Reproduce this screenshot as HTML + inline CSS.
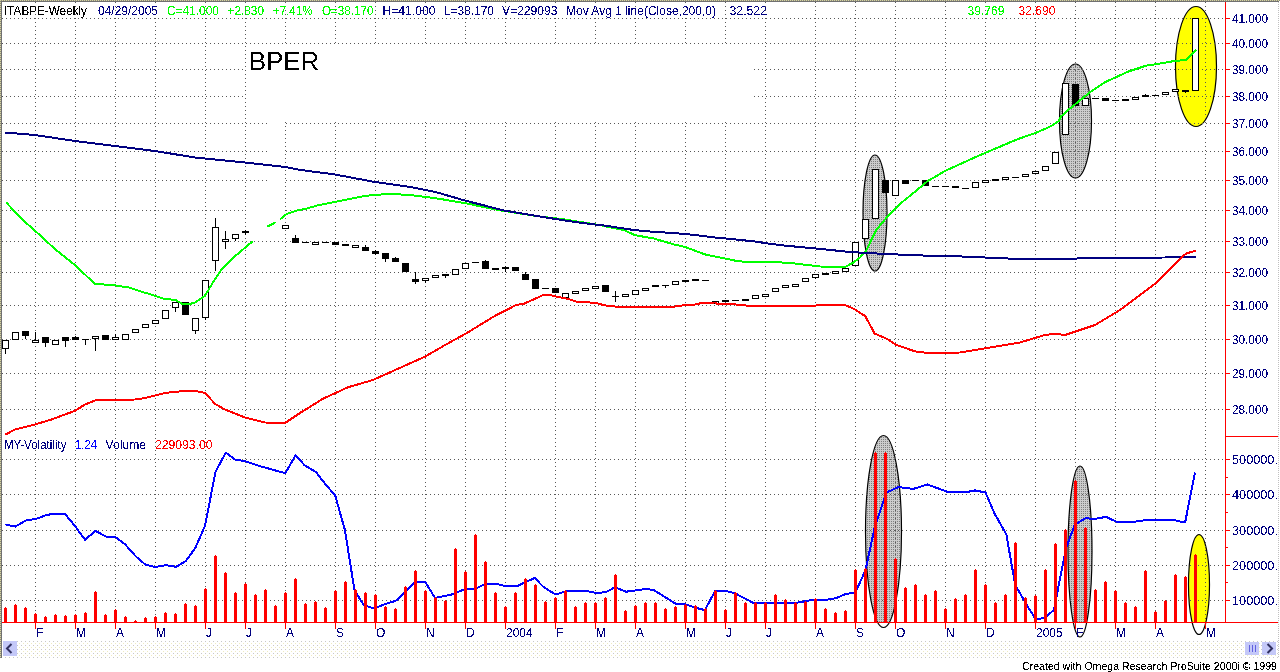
<!DOCTYPE html><html><head><meta charset="utf-8"><style>html,body{margin:0;padding:0;background:#fff;overflow:hidden}svg{display:block}text{font-family:"Liberation Sans",sans-serif}</style></head><body>
<svg width="1280" height="672" viewBox="0 0 1280 672">
<defs><pattern id="gp" x="0" y="0" width="2" height="2" patternUnits="userSpaceOnUse"><rect width="2" height="2" fill="#cccccc"/><rect x="1" y="1" width="1" height="1" fill="#808080"/></pattern>
<clipPath id="volclip"><rect x="0" y="436" width="1280" height="186"/></clipPath>
<pattern id="sb" x="0" y="0" width="4" height="4" patternUnits="userSpaceOnUse"><rect width="4" height="4" fill="#ffffff"/><rect x="1" y="1" width="1" height="1" fill="#c8c8c8"/><rect x="3" y="3" width="1" height="1" fill="#f0ecc0"/></pattern>
<pattern id="bd" x="0" y="0" width="2" height="2" patternUnits="userSpaceOnUse"><rect width="2" height="2" fill="#d8d49c"/><rect x="1" y="0" width="1" height="1" fill="#8a8a80"/><rect x="0" y="1" width="1" height="1" fill="#8a8a80"/></pattern>
<filter id="thr" x="0" y="0" width="1280" height="672" filterUnits="userSpaceOnUse"><feComponentTransfer><feFuncA type="discrete" tableValues="0 0 0 0 1 1 1 1 1"/></feComponentTransfer></filter>
<filter id="thr2" x="0" y="0" width="1280" height="672" filterUnits="userSpaceOnUse"><feComponentTransfer><feFuncA type="discrete" tableValues="0 0 0 1 1 1"/></feComponentTransfer></filter>
</defs>
<rect width="1280" height="672" fill="#fff"/>
<ellipse cx="875" cy="213" rx="12" ry="58" fill="url(#gp)"/>
<ellipse cx="875" cy="213" rx="12" ry="58" fill="none" stroke="#000" stroke-width="1.2"/>
<ellipse cx="1075.5" cy="121" rx="16" ry="57" fill="url(#gp)"/>
<ellipse cx="1075.5" cy="121" rx="16" ry="57" fill="none" stroke="#000" stroke-width="1.2"/>
<ellipse cx="1196" cy="66.5" rx="20.5" ry="60" fill="#ffff00"/>
<ellipse cx="1196" cy="66.5" rx="20.5" ry="60" fill="none" stroke="#000" stroke-width="1.2"/>
<ellipse cx="883.5" cy="531.5" rx="18" ry="96" fill="url(#gp)" clip-path="url(#volclip)"/>
<ellipse cx="883.5" cy="531.5" rx="18" ry="96" fill="none" stroke="#000" stroke-width="1.2"/>
<ellipse cx="1080" cy="551.5" rx="12" ry="85.5" fill="url(#gp)" clip-path="url(#volclip)"/>
<ellipse cx="1080" cy="551.5" rx="12" ry="85.5" fill="none" stroke="#000" stroke-width="1.2"/>
<ellipse cx="1199" cy="584.5" rx="10.5" ry="50" fill="#ffff00" clip-path="url(#volclip)"/>
<ellipse cx="1199" cy="584.5" rx="10.5" ry="50" fill="none" stroke="#000" stroke-width="1.2"/>
<g stroke="#585858" stroke-width="1" stroke-dasharray="1 3" shape-rendering="crispEdges" fill="none">
<line x1="35.5" y1="2" x2="35.5" y2="622"/>
<line x1="75.5" y1="2" x2="75.5" y2="622"/>
<line x1="115.5" y1="2" x2="115.5" y2="622"/>
<line x1="155.5" y1="2" x2="155.5" y2="622"/>
<line x1="205.5" y1="2" x2="205.5" y2="622"/>
<line x1="245.5" y1="2" x2="245.5" y2="622"/>
<line x1="285.5" y1="2" x2="285.5" y2="622"/>
<line x1="335.5" y1="2" x2="335.5" y2="622"/>
<line x1="375.5" y1="2" x2="375.5" y2="622"/>
<line x1="425.5" y1="2" x2="425.5" y2="622"/>
<line x1="465.5" y1="2" x2="465.5" y2="622"/>
<line x1="505.5" y1="2" x2="505.5" y2="622"/>
<line x1="555.5" y1="2" x2="555.5" y2="622"/>
<line x1="595.5" y1="2" x2="595.5" y2="622"/>
<line x1="635.5" y1="2" x2="635.5" y2="622"/>
<line x1="685.5" y1="2" x2="685.5" y2="622"/>
<line x1="725.5" y1="2" x2="725.5" y2="622"/>
<line x1="765.5" y1="2" x2="765.5" y2="622"/>
<line x1="815.5" y1="2" x2="815.5" y2="622"/>
<line x1="855.5" y1="2" x2="855.5" y2="622"/>
<line x1="895.5" y1="2" x2="895.5" y2="622"/>
<line x1="945.5" y1="2" x2="945.5" y2="622"/>
<line x1="985.5" y1="2" x2="985.5" y2="622"/>
<line x1="1035.5" y1="2" x2="1035.5" y2="622"/>
<line x1="1075.5" y1="2" x2="1075.5" y2="622"/>
<line x1="1115.5" y1="2" x2="1115.5" y2="622"/>
<line x1="1155.5" y1="2" x2="1155.5" y2="622"/>
<line x1="1205.5" y1="2" x2="1205.5" y2="622"/>
<line x1="2" y1="18.5" x2="1225" y2="18.5"/>
<line x1="2" y1="43.5" x2="1225" y2="43.5"/>
<line x1="2" y1="69.5" x2="1225" y2="69.5"/>
<line x1="2" y1="96.5" x2="1225" y2="96.5"/>
<line x1="2" y1="123.5" x2="1225" y2="123.5"/>
<line x1="2" y1="151.5" x2="1225" y2="151.5"/>
<line x1="2" y1="180.5" x2="1225" y2="180.5"/>
<line x1="2" y1="210.5" x2="1225" y2="210.5"/>
<line x1="2" y1="241.5" x2="1225" y2="241.5"/>
<line x1="2" y1="272.5" x2="1225" y2="272.5"/>
<line x1="2" y1="305.5" x2="1225" y2="305.5"/>
<line x1="2" y1="339.5" x2="1225" y2="339.5"/>
<line x1="2" y1="373.5" x2="1225" y2="373.5"/>
<line x1="2" y1="409.5" x2="1225" y2="409.5"/>
<line x1="2" y1="459.5" x2="1225" y2="459.5"/>
<line x1="2" y1="494.5" x2="1225" y2="494.5"/>
<line x1="2" y1="530.5" x2="1225" y2="530.5"/>
<line x1="2" y1="565.5" x2="1225" y2="565.5"/>
<line x1="2" y1="600.5" x2="1225" y2="600.5"/>
</g>
<rect x="246" y="44" width="507" height="78" fill="#fff"/>
<rect x="267" y="123" width="16" height="93" fill="#fff"/>
<rect x="246" y="205" width="22" height="11" fill="#fff"/>
<text filter="url(#thr2)" x="249" y="70" font-size="26.5" fill="#000" textLength="70" lengthAdjust="spacingAndGlyphs">BPER</text>
<g shape-rendering="crispEdges">
<rect x="5" y="348" width="1" height="6" fill="#000"/>
<rect x="2" y="340" width="7" height="9" fill="#000"/>
<rect x="3" y="341" width="5" height="7" fill="#fff"/>
<rect x="12" y="332" width="7" height="8" fill="#000"/>
<rect x="13" y="333" width="5" height="6" fill="#fff"/>
<rect x="25" y="335" width="1" height="4" fill="#000"/>
<rect x="22" y="331" width="7" height="5" fill="#000"/>
<rect x="35" y="332" width="1" height="9" fill="#000"/>
<rect x="32" y="340" width="7" height="3" fill="#000"/>
<rect x="33" y="341" width="5" height="1" fill="#fff"/>
<rect x="45" y="342" width="1" height="5" fill="#000"/>
<rect x="42" y="337" width="7" height="6" fill="#000"/>
<rect x="52" y="340" width="7" height="5" fill="#000"/>
<rect x="53" y="341" width="5" height="3" fill="#fff"/>
<rect x="65" y="340" width="1" height="7" fill="#000"/>
<rect x="62" y="337" width="7" height="4" fill="#000"/>
<rect x="75" y="336" width="1" height="2" fill="#000"/>
<rect x="72" y="337" width="7" height="3" fill="#000"/>
<rect x="85" y="340" width="1" height="5" fill="#000"/>
<rect x="82" y="339" width="7" height="1" fill="#000"/>
<rect x="95" y="338" width="1" height="13" fill="#000"/>
<rect x="92" y="336" width="7" height="3" fill="#000"/>
<rect x="93" y="337" width="5" height="1" fill="#fff"/>
<rect x="102" y="335" width="7" height="5" fill="#000"/>
<rect x="115" y="334" width="1" height="4" fill="#000"/>
<rect x="112" y="337" width="7" height="3" fill="#000"/>
<rect x="113" y="338" width="5" height="1" fill="#fff"/>
<rect x="122" y="334" width="7" height="6" fill="#000"/>
<rect x="123" y="335" width="5" height="4" fill="#fff"/>
<rect x="132" y="329" width="7" height="4" fill="#000"/>
<rect x="133" y="330" width="5" height="2" fill="#fff"/>
<rect x="142" y="324" width="7" height="4" fill="#000"/>
<rect x="143" y="325" width="5" height="2" fill="#fff"/>
<rect x="152" y="320" width="7" height="4" fill="#000"/>
<rect x="153" y="321" width="5" height="2" fill="#fff"/>
<rect x="162" y="310" width="7" height="9" fill="#000"/>
<rect x="163" y="311" width="5" height="7" fill="#fff"/>
<rect x="175" y="307" width="1" height="5" fill="#000"/>
<rect x="172" y="302" width="7" height="6" fill="#000"/>
<rect x="173" y="303" width="5" height="4" fill="#fff"/>
<rect x="182" y="302" width="7" height="13" fill="#000"/>
<rect x="195" y="330" width="1" height="4" fill="#000"/>
<rect x="192" y="318" width="7" height="13" fill="#000"/>
<rect x="193" y="319" width="5" height="11" fill="#fff"/>
<rect x="205" y="317" width="1" height="3" fill="#000"/>
<rect x="202" y="280" width="7" height="38" fill="#000"/>
<rect x="203" y="281" width="5" height="36" fill="#fff"/>
<rect x="215" y="218" width="1" height="10" fill="#000"/>
<rect x="215" y="260" width="1" height="11" fill="#000"/>
<rect x="212" y="227" width="7" height="34" fill="#000"/>
<rect x="213" y="228" width="5" height="32" fill="#fff"/>
<rect x="225" y="231" width="1" height="9" fill="#000"/>
<rect x="225" y="241" width="1" height="8" fill="#000"/>
<rect x="222" y="239" width="7" height="3" fill="#000"/>
<rect x="223" y="240" width="5" height="1" fill="#fff"/>
<rect x="235" y="238" width="1" height="3" fill="#000"/>
<rect x="232" y="234" width="7" height="5" fill="#000"/>
<rect x="233" y="235" width="5" height="3" fill="#fff"/>
<rect x="245" y="230" width="1" height="2" fill="#000"/>
<rect x="245" y="232" width="1" height="3" fill="#000"/>
<rect x="242" y="231" width="7" height="2" fill="#000"/>
<rect x="282" y="225" width="7" height="4" fill="#000"/>
<rect x="283" y="226" width="5" height="2" fill="#fff"/>
<rect x="295" y="235" width="1" height="4" fill="#000"/>
<rect x="292" y="238" width="7" height="5" fill="#000"/>
<rect x="302" y="242" width="7" height="1" fill="#000"/>
<rect x="312" y="242" width="7" height="3" fill="#000"/>
<rect x="313" y="243" width="5" height="1" fill="#fff"/>
<rect x="325" y="242" width="1" height="1" fill="#000"/>
<rect x="322" y="242" width="7" height="1" fill="#000"/>
<rect x="332" y="242" width="7" height="3" fill="#000"/>
<rect x="342" y="244" width="7" height="2" fill="#000"/>
<rect x="352" y="245" width="7" height="3" fill="#000"/>
<rect x="353" y="246" width="5" height="1" fill="#fff"/>
<rect x="365" y="245" width="1" height="3" fill="#000"/>
<rect x="362" y="247" width="7" height="4" fill="#000"/>
<rect x="375" y="250" width="1" height="2" fill="#000"/>
<rect x="375" y="253" width="1" height="2" fill="#000"/>
<rect x="372" y="251" width="7" height="3" fill="#000"/>
<rect x="385" y="258" width="1" height="4" fill="#000"/>
<rect x="382" y="253" width="7" height="6" fill="#000"/>
<rect x="395" y="257" width="1" height="2" fill="#000"/>
<rect x="392" y="258" width="7" height="4" fill="#000"/>
<rect x="402" y="263" width="7" height="9" fill="#000"/>
<rect x="415" y="272" width="1" height="8" fill="#000"/>
<rect x="415" y="281" width="1" height="3" fill="#000"/>
<rect x="412" y="279" width="7" height="3" fill="#000"/>
<rect x="425" y="280" width="1" height="3" fill="#000"/>
<rect x="422" y="278" width="7" height="3" fill="#000"/>
<rect x="423" y="279" width="5" height="1" fill="#fff"/>
<rect x="432" y="275" width="7" height="3" fill="#000"/>
<rect x="433" y="276" width="5" height="1" fill="#fff"/>
<rect x="445" y="275" width="1" height="3" fill="#000"/>
<rect x="442" y="274" width="7" height="2" fill="#000"/>
<rect x="452" y="269" width="7" height="6" fill="#000"/>
<rect x="453" y="270" width="5" height="4" fill="#fff"/>
<rect x="462" y="263" width="7" height="6" fill="#000"/>
<rect x="463" y="264" width="5" height="4" fill="#fff"/>
<rect x="472" y="262" width="7" height="1" fill="#000"/>
<rect x="485" y="260" width="1" height="2" fill="#000"/>
<rect x="482" y="261" width="7" height="8" fill="#000"/>
<rect x="492" y="268" width="7" height="2" fill="#000"/>
<rect x="505" y="266" width="1" height="2" fill="#000"/>
<rect x="505" y="268" width="1" height="4" fill="#000"/>
<rect x="502" y="267" width="7" height="2" fill="#000"/>
<rect x="512" y="267" width="7" height="4" fill="#000"/>
<rect x="525" y="272" width="1" height="3" fill="#000"/>
<rect x="522" y="274" width="7" height="6" fill="#000"/>
<rect x="532" y="279" width="7" height="10" fill="#000"/>
<rect x="542" y="288" width="7" height="1" fill="#000"/>
<rect x="552" y="288" width="7" height="5" fill="#000"/>
<rect x="562" y="293" width="7" height="5" fill="#000"/>
<rect x="563" y="294" width="5" height="3" fill="#fff"/>
<rect x="572" y="291" width="7" height="3" fill="#000"/>
<rect x="573" y="292" width="5" height="1" fill="#fff"/>
<rect x="582" y="288" width="7" height="3" fill="#000"/>
<rect x="583" y="289" width="5" height="1" fill="#fff"/>
<rect x="592" y="286" width="7" height="3" fill="#000"/>
<rect x="593" y="287" width="5" height="1" fill="#fff"/>
<rect x="602" y="285" width="7" height="7" fill="#000"/>
<rect x="615" y="291" width="1" height="6" fill="#000"/>
<rect x="615" y="297" width="1" height="5" fill="#000"/>
<rect x="612" y="296" width="7" height="1" fill="#000"/>
<rect x="622" y="294" width="7" height="3" fill="#000"/>
<rect x="623" y="295" width="5" height="1" fill="#fff"/>
<rect x="632" y="290" width="7" height="5" fill="#000"/>
<rect x="633" y="291" width="5" height="3" fill="#fff"/>
<rect x="642" y="288" width="7" height="3" fill="#000"/>
<rect x="643" y="289" width="5" height="1" fill="#fff"/>
<rect x="652" y="285" width="7" height="2" fill="#000"/>
<rect x="665" y="286" width="1" height="2" fill="#000"/>
<rect x="662" y="285" width="7" height="1" fill="#000"/>
<rect x="672" y="281" width="7" height="4" fill="#000"/>
<rect x="673" y="282" width="5" height="2" fill="#fff"/>
<rect x="682" y="280" width="7" height="2" fill="#000"/>
<rect x="692" y="279" width="7" height="2" fill="#000"/>
<rect x="702" y="280" width="7" height="1" fill="#000"/>
<rect x="712" y="301" width="7" height="3" fill="#000"/>
<rect x="713" y="302" width="5" height="1" fill="#fff"/>
<rect x="722" y="300" width="7" height="2" fill="#000"/>
<rect x="732" y="300" width="7" height="1" fill="#000"/>
<rect x="742" y="299" width="7" height="2" fill="#000"/>
<rect x="752" y="295" width="7" height="4" fill="#000"/>
<rect x="753" y="296" width="5" height="2" fill="#fff"/>
<rect x="762" y="294" width="7" height="3" fill="#000"/>
<rect x="763" y="295" width="5" height="1" fill="#fff"/>
<rect x="772" y="288" width="7" height="4" fill="#000"/>
<rect x="773" y="289" width="5" height="2" fill="#fff"/>
<rect x="782" y="285" width="7" height="3" fill="#000"/>
<rect x="783" y="286" width="5" height="1" fill="#fff"/>
<rect x="792" y="284" width="7" height="3" fill="#000"/>
<rect x="793" y="285" width="5" height="1" fill="#fff"/>
<rect x="802" y="278" width="7" height="4" fill="#000"/>
<rect x="803" y="279" width="5" height="2" fill="#fff"/>
<rect x="815" y="277" width="1" height="2" fill="#000"/>
<rect x="812" y="274" width="7" height="4" fill="#000"/>
<rect x="813" y="275" width="5" height="2" fill="#fff"/>
<rect x="822" y="273" width="7" height="2" fill="#000"/>
<rect x="832" y="271" width="7" height="3" fill="#000"/>
<rect x="833" y="272" width="5" height="1" fill="#fff"/>
<rect x="842" y="268" width="7" height="4" fill="#000"/>
<rect x="843" y="269" width="5" height="2" fill="#fff"/>
<rect x="852" y="242" width="7" height="24" fill="#000"/>
<rect x="853" y="243" width="5" height="22" fill="#fff"/>
<rect x="862" y="219" width="7" height="20" fill="#000"/>
<rect x="863" y="220" width="5" height="18" fill="#fff"/>
<rect x="872" y="169" width="7" height="50" fill="#000"/>
<rect x="873" y="170" width="5" height="48" fill="#fff"/>
<rect x="882" y="180" width="7" height="13" fill="#000"/>
<rect x="892" y="180" width="7" height="16" fill="#000"/>
<rect x="893" y="181" width="5" height="14" fill="#fff"/>
<rect x="902" y="180" width="7" height="4" fill="#000"/>
<rect x="912" y="180" width="7" height="1" fill="#000"/>
<rect x="922" y="180" width="7" height="6" fill="#000"/>
<rect x="932" y="186" width="7" height="1" fill="#000"/>
<rect x="942" y="186" width="7" height="1" fill="#000"/>
<rect x="952" y="186" width="7" height="2" fill="#000"/>
<rect x="962" y="188" width="7" height="1" fill="#000"/>
<rect x="972" y="182" width="7" height="6" fill="#000"/>
<rect x="973" y="183" width="5" height="4" fill="#fff"/>
<rect x="982" y="180" width="7" height="3" fill="#000"/>
<rect x="983" y="181" width="5" height="1" fill="#fff"/>
<rect x="992" y="179" width="7" height="2" fill="#000"/>
<rect x="1002" y="177" width="7" height="3" fill="#000"/>
<rect x="1003" y="178" width="5" height="1" fill="#fff"/>
<rect x="1012" y="177" width="7" height="1" fill="#000"/>
<rect x="1022" y="174" width="7" height="3" fill="#000"/>
<rect x="1023" y="175" width="5" height="1" fill="#fff"/>
<rect x="1032" y="171" width="7" height="3" fill="#000"/>
<rect x="1033" y="172" width="5" height="1" fill="#fff"/>
<rect x="1042" y="166" width="7" height="5" fill="#000"/>
<rect x="1043" y="167" width="5" height="3" fill="#fff"/>
<rect x="1052" y="152" width="7" height="12" fill="#000"/>
<rect x="1053" y="153" width="5" height="10" fill="#fff"/>
<rect x="1062" y="83" width="7" height="52" fill="#000"/>
<rect x="1063" y="84" width="5" height="50" fill="#fff"/>
<rect x="1072" y="84" width="7" height="22" fill="#000"/>
<rect x="1082" y="98" width="7" height="8" fill="#000"/>
<rect x="1083" y="99" width="5" height="6" fill="#fff"/>
<rect x="1092" y="98" width="7" height="1" fill="#000"/>
<rect x="1102" y="98" width="7" height="3" fill="#000"/>
<rect x="1112" y="100" width="7" height="1" fill="#000"/>
<rect x="1122" y="99" width="7" height="2" fill="#000"/>
<rect x="1132" y="97" width="7" height="3" fill="#000"/>
<rect x="1133" y="98" width="5" height="1" fill="#fff"/>
<rect x="1145" y="94" width="1" height="2" fill="#000"/>
<rect x="1142" y="95" width="7" height="2" fill="#000"/>
<rect x="1152" y="95" width="7" height="1" fill="#000"/>
<rect x="1162" y="92" width="7" height="3" fill="#000"/>
<rect x="1163" y="93" width="5" height="1" fill="#fff"/>
<rect x="1172" y="89" width="7" height="3" fill="#000"/>
<rect x="1173" y="90" width="5" height="1" fill="#fff"/>
<rect x="1185" y="90" width="1" height="3" fill="#000"/>
<rect x="1182" y="90" width="7" height="2" fill="#000"/>
<rect x="1192" y="18" width="7" height="73" fill="#000"/>
<rect x="1193" y="19" width="5" height="71" fill="#fff"/>
</g>
<g fill="none" stroke-width="2" stroke-linejoin="round" stroke-linecap="butt" shape-rendering="crispEdges">
<polyline points="6.0,202.2 20.6,218.0 37.5,233.0 56.0,250.0 75.0,265.0 94.7,283.8 114.4,285.3 130.0,287.7 140.0,291.3 150.5,294.3 165.7,299.4 174.8,299.6 183.0,304.3 190.0,304.0 195.0,302.5 198.9,300.0 204.7,296.0 209.5,288.2 215.3,278.6 222.1,268.9 233.7,257.3 252.6,241.3" stroke="#00ff00"/>
<polyline points="267.5,226.6 275.6,222.3" stroke="#00ff00"/>
<polyline points="280.2,219.3 286.3,214.2 296.4,210.7 306.6,208.6 316.8,205.6 331.9,202.6 366.4,195.7 390.3,193.8 411.6,195.2 438.1,198.6 464.7,203.1 501.9,210.6 539.0,216.4 565.6,219.6 600.1,225.2 623.8,230.0 635.0,235.2 653.8,238.5 673.8,244.4 685.0,246.9 705.0,254.4 725.0,258.5 735.0,260.6 745.0,261.9 773.8,261.9 795.0,263.5 820.0,266.5 845.0,266.9 852.5,263.1 860.0,257.5 866.2,250.6 876.2,230.0 886.2,218.1 900.0,203.8 912.5,193.8 927.5,181.2 945.0,171.0 965.0,161.9 980.0,155.1 998.7,147.2 1017.5,139.2 1036.2,132.7 1051.2,126.1 1058.7,121.0 1061.2,116.2 1071.2,107.5 1090.0,92.2 1105.0,82.2 1127.5,71.9 1146.2,65.6 1155.0,64.4 1174.5,61.0 1186.0,60.0 1196.0,49.9" stroke="#00ff00"/>
<polyline points="5.0,132.5 35.0,135.0 75.0,141.0 115.0,146.0 155.0,151.0 195.0,157.5 245.0,162.5 285.0,167.0 300.0,169.9 334.5,174.4 374.4,181.9 411.6,187.2 435.5,192.0 464.7,200.5 504.5,210.6 539.0,216.4 576.2,222.2 605.4,225.7 635.0,230.2 655.0,231.9 675.0,233.1 695.0,235.0 715.0,237.5 735.0,239.4 755.0,241.5 770.0,243.8 785.0,245.6 805.0,247.5 825.0,249.4 845.0,251.5 865.0,252.9 895.0,254.4 925.0,255.6 955.0,256.2 985.0,257.5 1015.0,258.8 1075.0,258.8 1080.0,258.0 1165.0,257.5 1196.0,256.8" stroke="#000080"/>
<polyline points="5.5,434.5 15.0,429.5 35.0,424.5 50.0,420.0 75.0,410.8 85.0,404.5 95.0,400.5 135.0,399.5 145.0,398.0 155.0,395.5 165.0,393.0 185.0,390.8 195.0,390.8 205.0,393.0 215.0,403.8 225.0,409.5 245.0,417.5 265.0,422.5 285.0,423.0 300.0,413.0 322.9,398.8 347.9,387.3 372.9,380.0 393.8,370.6 425.0,356.7 445.8,344.6 466.7,333.1 493.8,316.5 516.2,305.0 523.8,303.8 543.8,294.8 550.0,295.0 556.2,296.5 567.5,298.8 576.2,301.6 595.0,302.8 605.0,305.4 615.0,306.5 675.0,306.5 686.2,305.0 697.5,304.4 701.2,302.8 715.0,302.5 717.5,304.0 735.0,304.0 737.0,305.0 745.0,305.0 747.0,306.0 815.0,306.0 817.5,305.0 845.0,305.0 854.0,308.8 865.3,316.2 874.7,333.6 886.9,338.8 896.2,344.8 915.0,351.4 927.5,353.0 960.0,352.5 990.0,347.5 1020.0,342.5 1045.0,335.0 1055.0,333.8 1065.0,335.0 1095.0,325.0 1120.0,310.0 1155.0,283.8 1182.5,256.2 1187.5,253.0 1196.0,250.8" stroke="#ff0000"/>
</g>
<polyline points="5.5,524.4 15.2,526.6 26.3,520.3 36.0,518.9 45.7,515.3 52.6,513.9 65.0,513.9 74.8,525.8 85.0,539.7 95.5,530.9 106.6,536.9 115.0,536.9 124.7,543.9 135.7,556.3 145.4,564.6 155.0,566.9 166.2,565.2 175.9,566.9 185.6,561.3 195.3,548.0 205.0,525.8 215.5,471.9 225.8,452.5 235.5,459.9 243.8,460.8 260.4,466.3 285.4,473.2 295.6,455.2 304.8,465.5 315.8,471.9 325.5,484.3 335.2,495.4 344.9,530.0 354.6,590.9 364.3,605.5 374.0,608.3 383.7,604.7 396.1,600.6 415.5,581.8 425.2,581.8 435.0,597.9 451.6,594.5 465.5,589.0 475.2,589.0 486.3,583.5 494.6,583.5 505.7,586.2 516.8,586.2 534.8,577.9 543.1,586.7 555.6,594.5 566.6,591.0 586.0,591.0 595.7,592.9 605.4,592.3 615.0,587.3 626.1,591.7 645.5,589.0 653.8,590.0 676.0,604.0 684.3,604.0 699.6,608.9 704.9,610.0 715.3,590.7 724.2,590.7 734.6,593.1 754.0,603.2 794.2,603.2 809.0,600.5 824.0,600.2 835.8,598.2 846.3,593.7 855.2,593.1 865.6,569.9 874.5,528.2 886.4,492.5 898.3,487.1 913.2,488.9 927.4,484.5 946.8,491.6 964.6,492.5 975.0,490.4 985.5,492.5 994.4,513.3 1006.3,534.2 1015.2,584.8 1027.1,605.6 1036.0,619.6 1045.0,617.5 1053.9,610.0 1065.8,549.0 1074.8,524.6 1085.2,518.4 1095.6,518.7 1106.0,516.9 1116.4,521.7 1134.3,521.7 1147.0,520.0 1173.8,520.0 1185.1,522.6 1195.0,472.5" fill="none" stroke="#0000ff" stroke-width="2" stroke-linejoin="round" shape-rendering="crispEdges"/>
<g fill="#ff0000" shape-rendering="crispEdges">
<rect x="5" y="607" width="1" height="1"/><rect x="4" y="608" width="3" height="14"/>
<rect x="15" y="604" width="1" height="1"/><rect x="14" y="605" width="3" height="17"/>
<rect x="25" y="607" width="1" height="1"/><rect x="24" y="608" width="3" height="14"/>
<rect x="35" y="613" width="1" height="1"/><rect x="34" y="614" width="3" height="8"/>
<rect x="45" y="616" width="1" height="1"/><rect x="44" y="617" width="3" height="5"/>
<rect x="55" y="614" width="1" height="1"/><rect x="54" y="615" width="3" height="7"/>
<rect x="65" y="615" width="1" height="1"/><rect x="64" y="616" width="3" height="6"/>
<rect x="75" y="614" width="1" height="1"/><rect x="74" y="615" width="3" height="7"/>
<rect x="85" y="612" width="1" height="1"/><rect x="84" y="613" width="3" height="9"/>
<rect x="95" y="591" width="1" height="1"/><rect x="94" y="592" width="3" height="30"/>
<rect x="105" y="614" width="1" height="1"/><rect x="104" y="615" width="3" height="7"/>
<rect x="115" y="609" width="1" height="1"/><rect x="114" y="610" width="3" height="12"/>
<rect x="125" y="616" width="1" height="1"/><rect x="124" y="617" width="3" height="5"/>
<rect x="135" y="620" width="1" height="1"/><rect x="134" y="621" width="3" height="1"/>
<rect x="145" y="617" width="1" height="1"/><rect x="144" y="618" width="3" height="4"/>
<rect x="155" y="616" width="1" height="1"/><rect x="154" y="617" width="3" height="5"/>
<rect x="165" y="612" width="1" height="1"/><rect x="164" y="613" width="3" height="9"/>
<rect x="175" y="613" width="1" height="1"/><rect x="174" y="614" width="3" height="8"/>
<rect x="185" y="603" width="1" height="1"/><rect x="184" y="604" width="3" height="18"/>
<rect x="195" y="605" width="1" height="1"/><rect x="194" y="606" width="3" height="16"/>
<rect x="205" y="588" width="1" height="1"/><rect x="204" y="589" width="3" height="33"/>
<rect x="215" y="555" width="1" height="1"/><rect x="214" y="556" width="3" height="66"/>
<rect x="225" y="572" width="1" height="1"/><rect x="224" y="573" width="3" height="49"/>
<rect x="235" y="592" width="1" height="1"/><rect x="234" y="593" width="3" height="29"/>
<rect x="245" y="583" width="1" height="1"/><rect x="244" y="584" width="3" height="38"/>
<rect x="255" y="594" width="1" height="1"/><rect x="254" y="595" width="3" height="27"/>
<rect x="265" y="589" width="1" height="1"/><rect x="264" y="590" width="3" height="32"/>
<rect x="275" y="605" width="1" height="1"/><rect x="274" y="606" width="3" height="16"/>
<rect x="285" y="592" width="1" height="1"/><rect x="284" y="593" width="3" height="29"/>
<rect x="295" y="578" width="1" height="1"/><rect x="294" y="579" width="3" height="43"/>
<rect x="305" y="603" width="1" height="1"/><rect x="304" y="604" width="3" height="18"/>
<rect x="315" y="601" width="1" height="1"/><rect x="314" y="602" width="3" height="20"/>
<rect x="325" y="607" width="1" height="1"/><rect x="324" y="608" width="3" height="14"/>
<rect x="335" y="590" width="1" height="1"/><rect x="334" y="591" width="3" height="31"/>
<rect x="345" y="581" width="1" height="1"/><rect x="344" y="582" width="3" height="40"/>
<rect x="355" y="589" width="1" height="1"/><rect x="354" y="590" width="3" height="32"/>
<rect x="365" y="592" width="1" height="1"/><rect x="364" y="593" width="3" height="29"/>
<rect x="375" y="594" width="1" height="1"/><rect x="374" y="595" width="3" height="27"/>
<rect x="385" y="606" width="1" height="1"/><rect x="384" y="607" width="3" height="15"/>
<rect x="395" y="608" width="1" height="1"/><rect x="394" y="609" width="3" height="13"/>
<rect x="405" y="586" width="1" height="1"/><rect x="404" y="587" width="3" height="35"/>
<rect x="415" y="570" width="1" height="1"/><rect x="414" y="571" width="3" height="51"/>
<rect x="425" y="590" width="1" height="1"/><rect x="424" y="591" width="3" height="31"/>
<rect x="435" y="597" width="1" height="1"/><rect x="434" y="598" width="3" height="24"/>
<rect x="445" y="600" width="1" height="1"/><rect x="444" y="601" width="3" height="21"/>
<rect x="455" y="548" width="1" height="1"/><rect x="454" y="549" width="3" height="73"/>
<rect x="465" y="571" width="1" height="1"/><rect x="464" y="572" width="3" height="50"/>
<rect x="475" y="534" width="1" height="1"/><rect x="474" y="535" width="3" height="87"/>
<rect x="485" y="561" width="1" height="1"/><rect x="484" y="562" width="3" height="60"/>
<rect x="495" y="592" width="1" height="1"/><rect x="494" y="593" width="3" height="29"/>
<rect x="505" y="606" width="1" height="1"/><rect x="504" y="607" width="3" height="15"/>
<rect x="515" y="592" width="1" height="1"/><rect x="514" y="593" width="3" height="29"/>
<rect x="525" y="578" width="1" height="1"/><rect x="524" y="579" width="3" height="43"/>
<rect x="535" y="584" width="1" height="1"/><rect x="534" y="585" width="3" height="37"/>
<rect x="545" y="601" width="1" height="1"/><rect x="544" y="602" width="3" height="20"/>
<rect x="555" y="597" width="1" height="1"/><rect x="554" y="598" width="3" height="24"/>
<rect x="565" y="590" width="1" height="1"/><rect x="564" y="591" width="3" height="31"/>
<rect x="575" y="606" width="1" height="1"/><rect x="574" y="607" width="3" height="15"/>
<rect x="585" y="602" width="1" height="1"/><rect x="584" y="603" width="3" height="19"/>
<rect x="595" y="602" width="1" height="1"/><rect x="594" y="603" width="3" height="19"/>
<rect x="605" y="597" width="1" height="1"/><rect x="604" y="598" width="3" height="24"/>
<rect x="615" y="574" width="1" height="1"/><rect x="614" y="575" width="3" height="47"/>
<rect x="625" y="610" width="1" height="1"/><rect x="624" y="611" width="3" height="11"/>
<rect x="635" y="605" width="1" height="1"/><rect x="634" y="606" width="3" height="16"/>
<rect x="645" y="602" width="1" height="1"/><rect x="644" y="603" width="3" height="19"/>
<rect x="655" y="602" width="1" height="1"/><rect x="654" y="603" width="3" height="19"/>
<rect x="665" y="608" width="1" height="1"/><rect x="664" y="609" width="3" height="13"/>
<rect x="675" y="606" width="1" height="1"/><rect x="674" y="607" width="3" height="15"/>
<rect x="685" y="604" width="1" height="1"/><rect x="684" y="605" width="3" height="17"/>
<rect x="695" y="605" width="1" height="1"/><rect x="694" y="606" width="3" height="16"/>
<rect x="705" y="608" width="1" height="1"/><rect x="704" y="609" width="3" height="13"/>
<rect x="715" y="590" width="1" height="1"/><rect x="714" y="591" width="3" height="31"/>
<rect x="725" y="609" width="1" height="1"/><rect x="724" y="610" width="3" height="12"/>
<rect x="735" y="592" width="1" height="1"/><rect x="734" y="593" width="3" height="29"/>
<rect x="745" y="602" width="1" height="1"/><rect x="744" y="603" width="3" height="19"/>
<rect x="755" y="602" width="1" height="1"/><rect x="754" y="603" width="3" height="19"/>
<rect x="765" y="602" width="1" height="1"/><rect x="764" y="603" width="3" height="19"/>
<rect x="775" y="594" width="1" height="1"/><rect x="774" y="595" width="3" height="27"/>
<rect x="785" y="599" width="1" height="1"/><rect x="784" y="600" width="3" height="22"/>
<rect x="795" y="602" width="1" height="1"/><rect x="794" y="603" width="3" height="19"/>
<rect x="805" y="601" width="1" height="1"/><rect x="804" y="602" width="3" height="20"/>
<rect x="815" y="598" width="1" height="1"/><rect x="814" y="599" width="3" height="23"/>
<rect x="825" y="608" width="1" height="1"/><rect x="824" y="609" width="3" height="13"/>
<rect x="835" y="612" width="1" height="1"/><rect x="834" y="613" width="3" height="9"/>
<rect x="845" y="610" width="1" height="1"/><rect x="844" y="611" width="3" height="11"/>
<rect x="855" y="569" width="1" height="1"/><rect x="854" y="570" width="3" height="52"/>
<rect x="865" y="568" width="1" height="1"/><rect x="864" y="569" width="3" height="53"/>
<rect x="875" y="452" width="1" height="1"/><rect x="874" y="453" width="3" height="169"/>
<rect x="885" y="452" width="1" height="1"/><rect x="884" y="453" width="3" height="169"/>
<rect x="895" y="558" width="1" height="1"/><rect x="894" y="559" width="3" height="63"/>
<rect x="905" y="587" width="1" height="1"/><rect x="904" y="588" width="3" height="34"/>
<rect x="915" y="584" width="1" height="1"/><rect x="914" y="585" width="3" height="37"/>
<rect x="925" y="594" width="1" height="1"/><rect x="924" y="595" width="3" height="27"/>
<rect x="935" y="590" width="1" height="1"/><rect x="934" y="591" width="3" height="31"/>
<rect x="945" y="608" width="1" height="1"/><rect x="944" y="609" width="3" height="13"/>
<rect x="955" y="598" width="1" height="1"/><rect x="954" y="599" width="3" height="23"/>
<rect x="965" y="594" width="1" height="1"/><rect x="964" y="595" width="3" height="27"/>
<rect x="975" y="569" width="1" height="1"/><rect x="974" y="570" width="3" height="52"/>
<rect x="985" y="584" width="1" height="1"/><rect x="984" y="585" width="3" height="37"/>
<rect x="995" y="602" width="1" height="1"/><rect x="994" y="603" width="3" height="19"/>
<rect x="1005" y="594" width="1" height="1"/><rect x="1004" y="595" width="3" height="27"/>
<rect x="1015" y="542" width="1" height="1"/><rect x="1014" y="543" width="3" height="79"/>
<rect x="1025" y="597" width="1" height="1"/><rect x="1024" y="598" width="3" height="24"/>
<rect x="1035" y="595" width="1" height="1"/><rect x="1034" y="596" width="3" height="26"/>
<rect x="1045" y="569" width="1" height="1"/><rect x="1044" y="570" width="3" height="52"/>
<rect x="1055" y="543" width="1" height="1"/><rect x="1054" y="544" width="3" height="78"/>
<rect x="1065" y="529" width="1" height="1"/><rect x="1064" y="530" width="3" height="92"/>
<rect x="1075" y="480" width="1" height="1"/><rect x="1074" y="481" width="3" height="141"/>
<rect x="1085" y="527" width="1" height="1"/><rect x="1084" y="528" width="3" height="94"/>
<rect x="1095" y="589" width="1" height="1"/><rect x="1094" y="590" width="3" height="32"/>
<rect x="1105" y="581" width="1" height="1"/><rect x="1104" y="582" width="3" height="40"/>
<rect x="1115" y="590" width="1" height="1"/><rect x="1114" y="591" width="3" height="31"/>
<rect x="1125" y="602" width="1" height="1"/><rect x="1124" y="603" width="3" height="19"/>
<rect x="1135" y="606" width="1" height="1"/><rect x="1134" y="607" width="3" height="15"/>
<rect x="1145" y="570" width="1" height="1"/><rect x="1144" y="571" width="3" height="51"/>
<rect x="1155" y="611" width="1" height="1"/><rect x="1154" y="612" width="3" height="10"/>
<rect x="1165" y="600" width="1" height="1"/><rect x="1164" y="601" width="3" height="21"/>
<rect x="1175" y="574" width="1" height="1"/><rect x="1174" y="575" width="3" height="47"/>
<rect x="1185" y="576" width="1" height="1"/><rect x="1184" y="577" width="3" height="45"/>
<rect x="1195" y="554" width="1" height="1"/><rect x="1194" y="555" width="3" height="67"/>
</g>
<g fill="#ff0000" shape-rendering="crispEdges">
<rect x="1225" y="2" width="1" height="620"/>
<rect x="1225" y="436" width="53" height="1"/>
<rect x="2" y="622" width="1276" height="1"/>
<rect x="1225" y="18" width="5" height="1"/>
<rect x="1225" y="43" width="5" height="1"/>
<rect x="1225" y="69" width="5" height="1"/>
<rect x="1225" y="96" width="5" height="1"/>
<rect x="1225" y="123" width="5" height="1"/>
<rect x="1225" y="151" width="5" height="1"/>
<rect x="1225" y="180" width="5" height="1"/>
<rect x="1225" y="210" width="5" height="1"/>
<rect x="1225" y="241" width="5" height="1"/>
<rect x="1225" y="272" width="5" height="1"/>
<rect x="1225" y="305" width="5" height="1"/>
<rect x="1225" y="339" width="5" height="1"/>
<rect x="1225" y="373" width="5" height="1"/>
<rect x="1225" y="409" width="5" height="1"/>
<rect x="1225" y="459" width="5" height="1"/>
<rect x="1225" y="494" width="5" height="1"/>
<rect x="1225" y="530" width="5" height="1"/>
<rect x="1225" y="565" width="5" height="1"/>
<rect x="1225" y="600" width="5" height="1"/>
<rect x="1225" y="477" width="3" height="1"/>
<rect x="1225" y="512" width="3" height="1"/>
<rect x="1225" y="547" width="3" height="1"/>
<rect x="1225" y="582" width="3" height="1"/>
<rect x="35" y="623" width="1" height="6"/>
<rect x="75" y="623" width="1" height="6"/>
<rect x="115" y="623" width="1" height="6"/>
<rect x="155" y="623" width="1" height="6"/>
<rect x="205" y="623" width="1" height="6"/>
<rect x="245" y="623" width="1" height="6"/>
<rect x="285" y="623" width="1" height="6"/>
<rect x="335" y="623" width="1" height="6"/>
<rect x="375" y="623" width="1" height="6"/>
<rect x="425" y="623" width="1" height="6"/>
<rect x="465" y="623" width="1" height="6"/>
<rect x="505" y="623" width="1" height="6"/>
<rect x="555" y="623" width="1" height="6"/>
<rect x="595" y="623" width="1" height="6"/>
<rect x="635" y="623" width="1" height="6"/>
<rect x="685" y="623" width="1" height="6"/>
<rect x="725" y="623" width="1" height="6"/>
<rect x="765" y="623" width="1" height="6"/>
<rect x="815" y="623" width="1" height="6"/>
<rect x="855" y="623" width="1" height="6"/>
<rect x="895" y="623" width="1" height="6"/>
<rect x="945" y="623" width="1" height="6"/>
<rect x="985" y="623" width="1" height="6"/>
<rect x="1035" y="623" width="1" height="6"/>
<rect x="1075" y="623" width="1" height="6"/>
<rect x="1115" y="623" width="1" height="6"/>
<rect x="1155" y="623" width="1" height="6"/>
<rect x="1205" y="623" width="1" height="6"/>
</g>
<g filter="url(#thr)">
<g font-size="12" fill="#000080">
<text x="1232" y="23" textLength="36" lengthAdjust="spacingAndGlyphs">41.000</text>
<text x="1232" y="48" textLength="36" lengthAdjust="spacingAndGlyphs">40.000</text>
<text x="1232" y="74" textLength="36" lengthAdjust="spacingAndGlyphs">39.000</text>
<text x="1232" y="101" textLength="36" lengthAdjust="spacingAndGlyphs">38.000</text>
<text x="1232" y="128" textLength="36" lengthAdjust="spacingAndGlyphs">37.000</text>
<text x="1232" y="156" textLength="36" lengthAdjust="spacingAndGlyphs">36.000</text>
<text x="1232" y="185" textLength="36" lengthAdjust="spacingAndGlyphs">35.000</text>
<text x="1232" y="215" textLength="36" lengthAdjust="spacingAndGlyphs">34.000</text>
<text x="1232" y="246" textLength="36" lengthAdjust="spacingAndGlyphs">33.000</text>
<text x="1232" y="277" textLength="36" lengthAdjust="spacingAndGlyphs">32.000</text>
<text x="1232" y="310" textLength="36" lengthAdjust="spacingAndGlyphs">31.000</text>
<text x="1232" y="344" textLength="36" lengthAdjust="spacingAndGlyphs">30.000</text>
<text x="1232" y="378" textLength="36" lengthAdjust="spacingAndGlyphs">29.000</text>
<text x="1232" y="414" textLength="36" lengthAdjust="spacingAndGlyphs">28.000</text>
</g>
<svg x="0" y="0" width="1278" height="672" overflow="hidden"><g font-size="12" fill="#000080">
<text x="1232" y="464" textLength="53" lengthAdjust="spacingAndGlyphs">500000.0</text>
<text x="1232" y="499" textLength="53" lengthAdjust="spacingAndGlyphs">400000.0</text>
<text x="1232" y="535" textLength="53" lengthAdjust="spacingAndGlyphs">300000.0</text>
<text x="1232" y="570" textLength="53" lengthAdjust="spacingAndGlyphs">200000.0</text>
<text x="1232" y="605" textLength="53" lengthAdjust="spacingAndGlyphs">100000.0</text>
</g></svg>
<g font-size="12" fill="#000080">
<text x="36" y="637">F</text>
<text x="76" y="637">M</text>
<text x="116" y="637">A</text>
<text x="156" y="637">M</text>
<text x="206" y="637">J</text>
<text x="246" y="637">J</text>
<text x="286" y="637">A</text>
<text x="336" y="637">S</text>
<text x="376" y="637">O</text>
<text x="426" y="637">N</text>
<text x="466" y="637">D</text>
<text x="506" y="637">2004</text>
<text x="556" y="637">F</text>
<text x="596" y="637">M</text>
<text x="636" y="637">A</text>
<text x="686" y="637">M</text>
<text x="726" y="637">J</text>
<text x="766" y="637">J</text>
<text x="816" y="637">A</text>
<text x="856" y="637">S</text>
<text x="896" y="637">O</text>
<text x="946" y="637">N</text>
<text x="986" y="637">D</text>
<text x="1036" y="637">2005</text>
<text x="1076" y="637">F</text>
<text x="1116" y="637">M</text>
<text x="1156" y="637">A</text>
<text x="1206" y="637">M</text>
</g>
<text x="4" y="15" font-size="12" fill="#000" textLength="83" lengthAdjust="spacingAndGlyphs">ITABPE-Weekly</text>
<text x="98" y="15" font-size="12" fill="#000080" textLength="60" lengthAdjust="spacingAndGlyphs">04/29/2005</text>
<text x="167" y="15" font-size="12" fill="#00ff00" textLength="52" lengthAdjust="spacingAndGlyphs">C=41.000</text>
<text x="227.5" y="15" font-size="12" fill="#00ff00" textLength="36.5" lengthAdjust="spacingAndGlyphs">+2.830</text>
<text x="273" y="15" font-size="12" fill="#00ff00" textLength="39.5" lengthAdjust="spacingAndGlyphs">+7.41%</text>
<text x="322" y="15" font-size="12" fill="#00ff00" textLength="51.5" lengthAdjust="spacingAndGlyphs">O=38.170</text>
<text x="382.5" y="15" font-size="12" fill="#000080" textLength="53" lengthAdjust="spacingAndGlyphs">H=41.000</text>
<text x="444" y="15" font-size="12" fill="#000080" textLength="50" lengthAdjust="spacingAndGlyphs">L=38.170</text>
<text x="502" y="15" font-size="12" fill="#000080" textLength="55.5" lengthAdjust="spacingAndGlyphs">V=229093</text>
<text x="566" y="15" font-size="12" fill="#000080" textLength="150" lengthAdjust="spacingAndGlyphs">Mov Avg 1 line(Close,200,0)</text>
<text x="729.5" y="15" font-size="12" fill="#000080" textLength="37.5" lengthAdjust="spacingAndGlyphs">32.522</text>
<text x="967.5" y="15" font-size="12" fill="#00ff00" textLength="37" lengthAdjust="spacingAndGlyphs">39.769</text>
<text x="1018.5" y="15" font-size="12" fill="#ff0000" textLength="37" lengthAdjust="spacingAndGlyphs">32.690</text>
<text x="4" y="449" font-size="12" fill="#000080" textLength="62.5" lengthAdjust="spacingAndGlyphs">MY-Volatility</text>
<text x="75" y="449" font-size="12" fill="#0000ff" textLength="22" lengthAdjust="spacingAndGlyphs">1.24</text>
<text x="105.5" y="449" font-size="12" fill="#000080" textLength="40.5" lengthAdjust="spacingAndGlyphs">Volume</text>
<text x="155" y="449" font-size="12" fill="#ff0000" textLength="57.5" lengthAdjust="spacingAndGlyphs">229093.00</text>
<text x="1022" y="670" font-size="11" fill="#000" textLength="255" lengthAdjust="spacingAndGlyphs">Created with Omega Research ProSuite 2000i © 1999</text>
</g>
<g shape-rendering="crispEdges">
<rect x="0" y="0" width="1280" height="1" fill="url(#bd)"/>
<rect x="0" y="0" width="1" height="658" fill="url(#bd)"/>
<rect x="1" y="1" width="1278" height="1" fill="#707070"/>
<rect x="1" y="1" width="1" height="657" fill="#707070"/>
<line x1="1278.5" y1="2" x2="1278.5" y2="658" stroke="#c0c0c0" stroke-dasharray="1 1"/>
<rect x="2" y="640" width="1276" height="18" fill="url(#sb)"/>
<rect x="3" y="641" width="14" height="15" fill="#c4c8f8"/>
<rect x="1245" y="642" width="14" height="13" fill="#c4c8f8"/>
<rect x="1262" y="642" width="14" height="13" fill="#c4c8f8"/>
</g>
<path d="M11.5,644 L7,648.5 L11.5,653" fill="none" stroke="#303060" stroke-width="2"/>
<path d="M1267.5,644 L1272,648.5 L1267.5,653" fill="none" stroke="#303060" stroke-width="2"/>
<g stroke="#6060e0" stroke-width="1" shape-rendering="crispEdges"><line x1="1249.5" y1="645" x2="1249.5" y2="652"/><line x1="1252.5" y1="645" x2="1252.5" y2="652"/><line x1="1255.5" y1="645" x2="1255.5" y2="652"/></g>
</svg></body></html>
